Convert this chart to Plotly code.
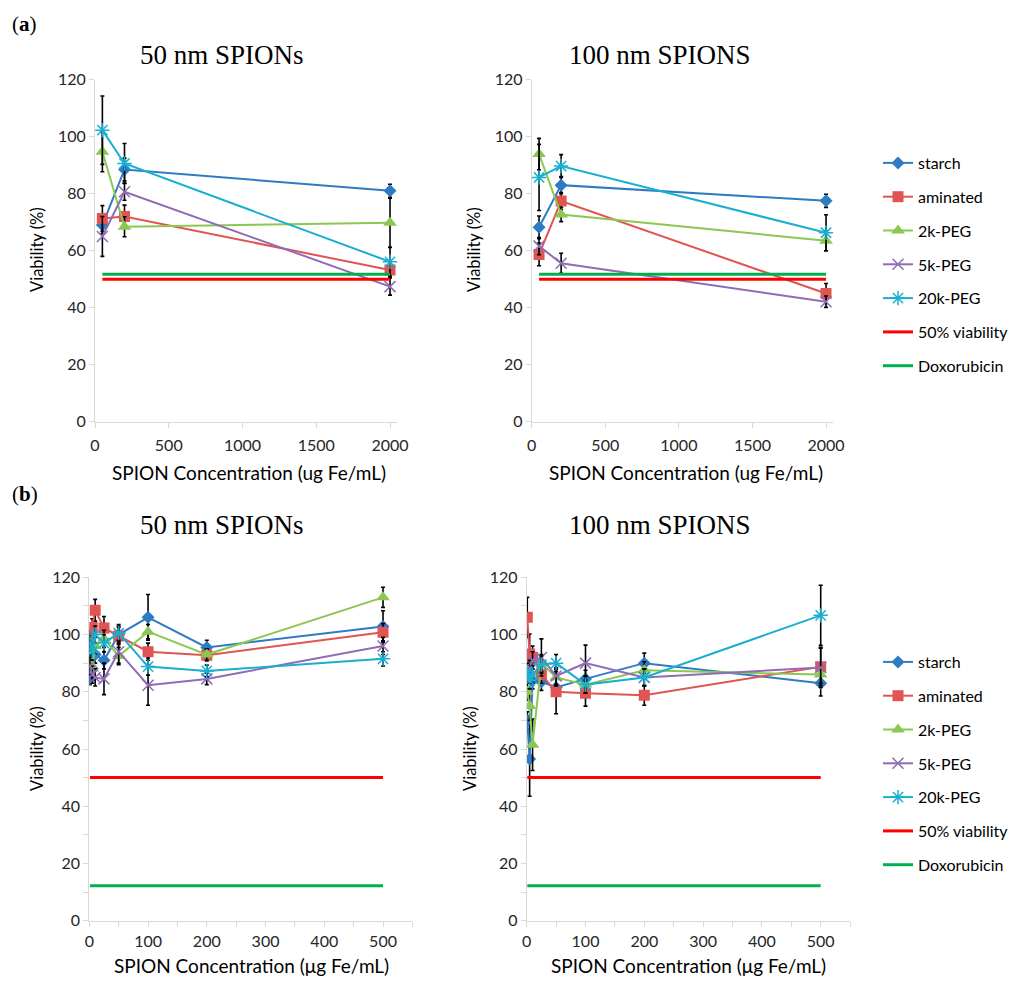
import plotly.graph_objects as go

W, H = 1024, 986

# ---------------- data ----------------
series_names = ["starch", "aminated", "2k-PEG", "5k-PEG", "20k-PEG"]
series_colors = ["#2E7BC4", "#E15454", "#8CC751", "#8F6CB5", "#1AAFD0"]
series_symbols = ["diamond", "square", "triangle-up", "x-thin-open", "asterisk-open"]

# (a) top row: concentrations in ug Fe/mL
x_a = [50, 200, 2000]
a50_starch = [69.0, 88.5, 81.0]
a50_aminated = [71.3, 72.0, 53.2]
a50_2k = [94.7, 68.4, 69.8]
a50_5k = [65.0, 80.7, 47.4]
a50_20k = [102.3, 90.6, 56.1]
a50_err_starch = [3.0, 4.0, 2.3]
a50_err_aminated = [4.5, 4.0, 2.5]
a50_err_2k = [7.0, 3.5, 8.6]
a50_err_5k = [7.0, 3.0, 3.0]
a50_err_20k = [12.0, 7.0, 5.0]

a100_starch = [68.2, 83.0, 77.5]
a100_aminated = [58.7, 77.4, 45.0]
a100_2k = [93.9, 72.7, 63.5]
a100_5k = [61.6, 55.6, 42.1]
a100_20k = [85.7, 89.7, 66.3]
a100_err_starch = [4.0, 3.0, 2.3]
a100_err_aminated = [4.0, 3.0, 3.5]
a100_err_2k = [5.5, 2.5, 3.5]
a100_err_5k = [3.0, 3.5, 2.0]
a100_err_20k = [11.6, 4.0, 6.3]

a_ref_x = [50, 2000]
a_viab50 = [50, 50]
a_dox = [51.7, 51.7]

# (b) bottom row
x_b = [1, 5, 10, 25, 50, 100, 200, 500]
b50_starch = [84.5, 88.0, 93.0, 91.0, 100.0, 106.0, 95.5, 102.8]
b50_aminated = [98.5, 102.5, 108.5, 102.3, 99.5, 94.0, 92.8, 100.8]
b50_2k = [90.0, 88.0, 96.0, 98.5, 92.5, 101.0, 93.0, 113.0]
b50_5k = [89.0, 86.0, 85.0, 84.5, 94.0, 82.3, 84.5, 96.0]
b50_20k = [97.0, 94.0, 100.0, 97.0, 100.5, 88.8, 87.3, 91.5]
b50_err_starch = [2.0, 3.0, 3.0, 3.0, 3.0, 8.0, 2.5, 5.5]
b50_err_aminated = [3.0, 3.0, 3.8, 4.0, 3.0, 3.0, 2.0, 3.0]
b50_err_2k = [3.0, 3.0, 3.0, 3.0, 3.0, 2.5, 2.0, 3.5]
b50_err_5k = [3.0, 3.0, 3.0, 5.5, 4.0, 7.0, 2.0, 3.0]
b50_err_20k = [3.0, 3.0, 3.0, 3.0, 3.0, 3.0, 2.0, 2.5]

b100_starch = [70.0, 56.5, 84.0, 83.5, 81.5, 84.5, 90.0, 83.0]
b100_aminated = [106.0, 93.2, 92.0, 86.0, 80.0, 79.5, 78.8, 88.7]
b100_2k = [80.0, 75.0, 61.5, 90.0, 85.0, 82.5, 87.5, 86.0]
b100_5k = [86.5, 88.0, 91.0, 92.0, 85.5, 90.0, 85.0, 88.5]
b100_20k = [87.0, 84.0, 86.0, 89.5, 90.0, 82.5, 85.0, 106.7]
b100_err_starch = [3.0, 13.0, 3.0, 3.0, 3.0, 3.0, 3.5, 4.5]
b100_err_aminated = [7.0, 7.0, 4.0, 3.0, 7.7, 4.5, 3.5, 6.5]
b100_err_2k = [3.0, 5.0, 9.0, 3.0, 3.0, 3.0, 3.0, 3.0]
b100_err_5k = [3.0, 3.0, 3.0, 6.5, 3.0, 6.3, 3.0, 7.0]
b100_err_20k = [3.0, 3.0, 3.0, 3.0, 3.0, 3.0, 3.0, 10.5]

b_ref_x = [1, 500]
b_viab50 = [50, 50]
b_dox = [12.2, 12.2]

ref_names = ["50% viability", "Doxorubicin"]
ref_colors = ["#FF0000", "#00B050"]

panels = [
    ("", x_a, [a50_starch, a50_aminated, a50_2k, a50_5k, a50_20k],
     [a50_err_starch, a50_err_aminated, a50_err_2k, a50_err_5k, a50_err_20k],
     a_ref_x, [a_viab50, a_dox], "legend", True),
    ("2", x_a, [a100_starch, a100_aminated, a100_2k, a100_5k, a100_20k],
     [a100_err_starch, a100_err_aminated, a100_err_2k, a100_err_5k, a100_err_20k],
     a_ref_x, [a_viab50, a_dox], "legend", False),
    ("3", x_b, [b50_starch, b50_aminated, b50_2k, b50_5k, b50_20k],
     [b50_err_starch, b50_err_aminated, b50_err_2k, b50_err_5k, b50_err_20k],
     b_ref_x, [b_viab50, b_dox], "legend2", True),
    ("4", x_b, [b100_starch, b100_aminated, b100_2k, b100_5k, b100_20k],
     [b100_err_starch, b100_err_aminated, b100_err_2k, b100_err_5k, b100_err_20k],
     b_ref_x, [b_viab50, b_dox], "legend2", False),
]

fig = go.Figure()

marker_sizes = [10, 11, 12, 11, 12]
for suf, xs, ys, errs, rx, refs, leg, show in panels:
    xa, ya = "x" + suf, "y" + suf
    for i, name in enumerate(series_names):
        sym = series_symbols[i]
        open_sym = sym.endswith("open")
        fig.add_trace(go.Scatter(
            x=xs, y=ys[i], name=name, mode="lines+markers",
            xaxis=xa, yaxis=ya, legend=leg, showlegend=show,
            legendgroup=leg + name,
            line=dict(color=series_colors[i], width=2),
            marker=dict(symbol=sym, size=marker_sizes[i], color=series_colors[i],
                        line=dict(color=series_colors[i], width=1.5 if open_sym else 0)),
            error_y=dict(type="data", array=errs[i], visible=True,
                         color="#000000", thickness=1.6, width=2),
        ))
    for j, rname in enumerate(ref_names):
        fig.add_trace(go.Scatter(
            x=rx, y=refs[j], name=rname, mode="lines",
            xaxis=xa, yaxis=ya, legend=leg, showlegend=show,
            legendgroup=leg + rname,
            line=dict(color=ref_colors[j], width=3),
        ))

# ---------------- layout ----------------
# page is drawn with an 8 px offset; positions below are given in screen pixels
OFF = 8

def px_x(p):
    return (p - OFF) / W

def px_y(p):
    return 1 - (p - OFF) / H

tick_font = dict(family="Lato, Liberation Sans, sans-serif", size=16, color="#262626")
axis_common = dict(showline=True, linecolor="#D9D9D9", linewidth=1, ticks="outside",
                   tickcolor="#D9D9D9", ticklen=5, showgrid=False, zeroline=False,
                   tickfont=tick_font, automargin=False)

layout_axes = {}
layout_axes["xaxis"] = dict(domain=[px_x(95), px_x(397.4)], range=[0, 2050], dtick=500,
                            anchor="y", ticklabelstandoff=4, **axis_common)
layout_axes["yaxis"] = dict(domain=[px_y(421.7), px_y(79.7)], range=[0, 120], dtick=20,
                            anchor="x", **axis_common)
layout_axes["xaxis2"] = dict(domain=[px_x(531.7), px_x(833.4)], range=[0, 2050], dtick=500,
                             anchor="y2", ticklabelstandoff=4, **axis_common)
layout_axes["yaxis2"] = dict(domain=[px_y(421.7), px_y(79.7)], range=[0, 120], dtick=20,
                             anchor="x2", **axis_common)
minor_x = dict(dtick=50, ticks="outside", ticklen=5, tickcolor="#D9D9D9")
minor_y = dict(dtick=10, ticks="outside", ticklen=5, tickcolor="#D9D9D9")
layout_axes["xaxis3"] = dict(domain=[px_x(89.3), px_x(412.4)], range=[0, 550], dtick=100,
                             tickvals=[0, 100, 200, 300, 400, 500], ticklabelstandoff=1,
                             minor=minor_x, anchor="y3", **axis_common)
layout_axes["yaxis3"] = dict(domain=[px_y(920.7), px_y(577.3)], range=[0, 120], dtick=20,
                             minor=minor_y, anchor="x3", **axis_common)
layout_axes["xaxis4"] = dict(domain=[px_x(526.7), px_x(850.1)], range=[0, 550], dtick=100,
                             tickvals=[0, 100, 200, 300, 400, 500], ticklabelstandoff=1,
                             minor=minor_x, anchor="y4", **axis_common)
layout_axes["yaxis4"] = dict(domain=[px_y(920.7), px_y(577.3)], range=[0, 120], dtick=20,
                             minor=minor_y, anchor="x4", **axis_common)

serif = "Liberation Serif, DejaVu Serif, serif"
sans = "Lato, Liberation Sans, sans-serif"

annotations = []
def add_text(text, xp, yp, size, family, xanchor="center", yanchor="middle", angle=0):
    annotations.append(dict(text=text, x=px_x(xp), y=px_y(yp), xref="paper", yref="paper",
                            showarrow=False, xanchor=xanchor, yanchor=yanchor, textangle=angle,
                            font=dict(family=family, size=size, color="#000000")))

add_text("(<b>a</b>)", 10, 24, 21, serif, xanchor="left")
add_text("(<b>b</b>)", 10, 494, 21, serif, xanchor="left")
add_text("50 nm SPIONs", 222, 55, 27, serif)
add_text("100 nm SPIONS", 660, 55, 27, serif)
add_text("50 nm SPIONs", 222, 525, 27, serif)
add_text("100 nm SPIONS", 660, 525, 27, serif)

add_text("SPION Concentration (ug Fe/mL)", 249, 472, 19, sans)
add_text("SPION Concentration (ug Fe/mL)", 686, 472, 19, sans)
add_text("SPION Concentration (\u03bcg Fe/mL)", 251, 965, 19, sans)
add_text("SPION Concentration (\u03bcg Fe/mL)", 688, 965, 19, sans)

add_text("Viability (%)", 37, 250, 16.5, sans, angle=-90)
add_text("Viability (%)", 474, 250, 16.5, sans, angle=-90)
add_text("Viability (%)", 37, 749, 16.5, sans, angle=-90)
add_text("Viability (%)", 470, 749, 16.5, sans, angle=-90)

legend_common = dict(font=dict(family=sans, size=16, color="#000000"),
                     bgcolor="rgba(0,0,0,0)", tracegroupgap=10, borderwidth=0,
                     xanchor="left", yanchor="top", itemwidth=30)

fig.update_layout(
    width=W, height=H,
    margin=dict(l=0, r=0, t=0, b=0, autoexpand=False),
    paper_bgcolor="#FFFFFF", plot_bgcolor="#FFFFFF",
    annotations=annotations,
    legend=dict(x=px_x(878), y=px_y(146), **legend_common),
    legend2=dict(x=px_x(878), y=px_y(645), **legend_common),
    **layout_axes,
)

fig.write_html("out.html")
